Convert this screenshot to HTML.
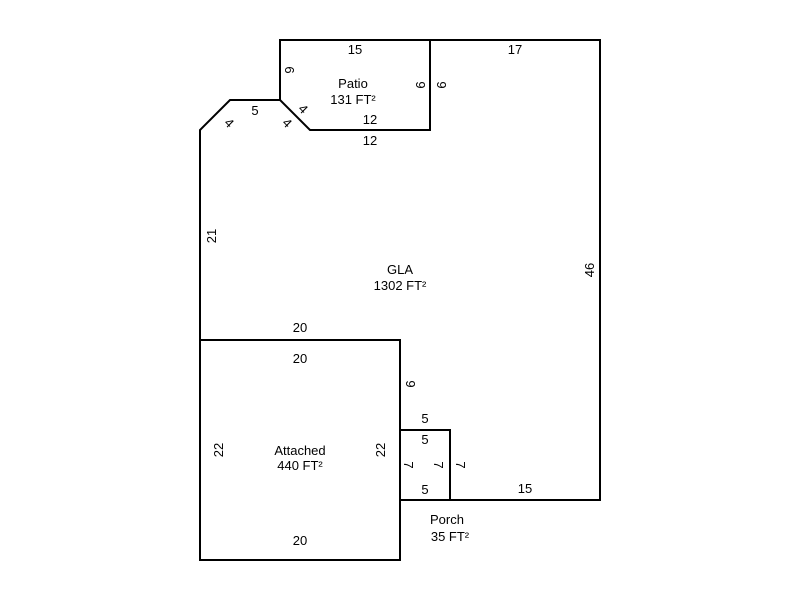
<!DOCTYPE html>
<html><head><style>body{margin:0;background:#fff}svg{display:block}text{font-family:"Liberation Sans",Arial,sans-serif;font-size:13px;fill:#000}</style></head><body>
<svg width="800" height="600" xmlns="http://www.w3.org/2000/svg">
<g fill="none" stroke="#000" stroke-width="2">
<polyline points="280,40 600,40 600,500 450,500"/>
<polygon points="280,40 430,40 430,130 310,130 280,100"/>
<polyline points="280,100 230,100 200,130 200,340"/>
<rect x="200" y="340" width="200" height="220"/>
<line x1="400" y1="340" x2="400" y2="430"/>
<rect x="400" y="430" width="50" height="70"/>
</g>
<g text-anchor="middle">
<text x="355" y="54">15</text>
<text x="515" y="54">17</text>
<text x="353" y="88">Patio</text>
<text x="353" y="104">131 FT²</text>
<text x="255" y="115">5</text>
<text x="370" y="124">12</text>
<text x="370" y="145">12</text>
<text x="400" y="274">GLA</text>
<text x="400" y="290">1302 FT²</text>
<text x="300" y="332">20</text>
<text x="300" y="363">20</text>
<text x="300" y="455">Attached</text>
<text x="300" y="470">440 FT²</text>
<text x="300" y="545">20</text>
<text x="425" y="423">5</text>
<text x="425" y="444">5</text>
<text x="425" y="494">5</text>
<text x="525" y="493">15</text>
<text x="447" y="524">Porch</text>
<text x="450" y="541">35 FT²</text>
<text transform="translate(285,70) rotate(90)">6</text>
<text transform="translate(416,85) rotate(90)">9</text>
<text transform="translate(437,85) rotate(90)">9</text>
<text transform="translate(216,236) rotate(-90)">21</text>
<text transform="translate(594,270) rotate(-90)">46</text>
<text transform="translate(223,450) rotate(-90)">22</text>
<text transform="translate(385,450) rotate(-90)">22</text>
<text transform="translate(406,384) rotate(90)">9</text>
<text transform="translate(404,465) rotate(90)">7</text>
<text transform="translate(434,465) rotate(90)">7</text>
<text transform="translate(456,465) rotate(90)">7</text>
<text transform="translate(226,126) rotate(45)">4</text>
<text transform="translate(300,112) rotate(45)">4</text>
<text transform="translate(284,126) rotate(45)">4</text>
</g>
</svg>
</body></html>
